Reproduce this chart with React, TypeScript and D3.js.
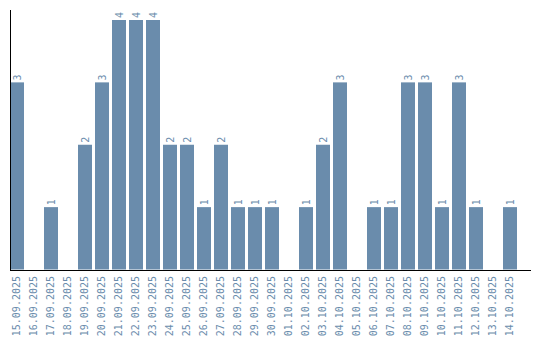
import React from "react";
import * as d3 from "d3";

const dates = [
  "15.09.2025","16.09.2025","17.09.2025","18.09.2025","19.09.2025","20.09.2025",
  "21.09.2025","22.09.2025","23.09.2025","24.09.2025","25.09.2025","26.09.2025",
  "27.09.2025","28.09.2025","29.09.2025","30.09.2025","01.10.2025","02.10.2025",
  "03.10.2025","04.10.2025","05.10.2025","06.10.2025","07.10.2025","08.10.2025",
  "09.10.2025","10.10.2025","11.10.2025","12.10.2025","13.10.2025","14.10.2025",
];
const counts = [3,0,1,0,2,3,4,4,4,2,2,1,2,1,1,1,0,1,2,3,0,1,1,3,3,1,3,1,0,1];

const W = 540, H = 340;
const left = 10, right = 520, axisEnd = 531;
const base = 269.5, top4 = 20;
const barColor = "#6a8cac";
const textColor = "#6a8cac";
const font = "'DejaVu Sans Mono', monospace";

export default function App() {
  const x = d3.scaleBand<string>().domain(dates).range([left, right]).paddingInner(3 / 17).paddingOuter(0).align(0);
  // adjust so step=17 and width 14
  const xs = d3.scaleBand<string>().domain(dates).range([left, left + 17 * dates.length]).padding(0);
  const y = d3.scaleLinear().domain([0, 4]).range([base, top4]);
  const bw = 14;
  return (
    <svg width={W} height={H} style={{ position: "absolute", left: 0, top: 0 }}>
      {dates.map((d, i) => {
        const v = counts[i];
        const x0 = xs(d)!;
        const cx = x0 + bw / 2;
        return (
          <g key={d}>
            {v > 0 && (
              <>
                <rect x={x0} y={y(v)} width={bw} height={base - y(v)} fill={barColor} />
                <text
                  transform={`translate(${cx},${y(v) - 2}) rotate(-90)`}
                  dy="0.35em"
                  fontSize={10}
                  fontFamily={font}
                  fill={textColor}
                  textAnchor="start"
                >
                  {v}
                </text>
              </>
            )}
            <text
              transform={`translate(${cx},276) rotate(-90)`}
              dy="0.33em"
              fontSize={10}
              fontFamily={font}
              fill={textColor}
              textAnchor="end"
            >
              {d}
            </text>
          </g>
        );
      })}
      <line x1={10.5} x2={10.5} y1={10} y2={270} stroke="#000" strokeWidth={1} />
      <line x1={10} x2={axisEnd} y1={270.5} y2={270.5} stroke="#000" strokeWidth={1} />
    </svg>
  );
}
